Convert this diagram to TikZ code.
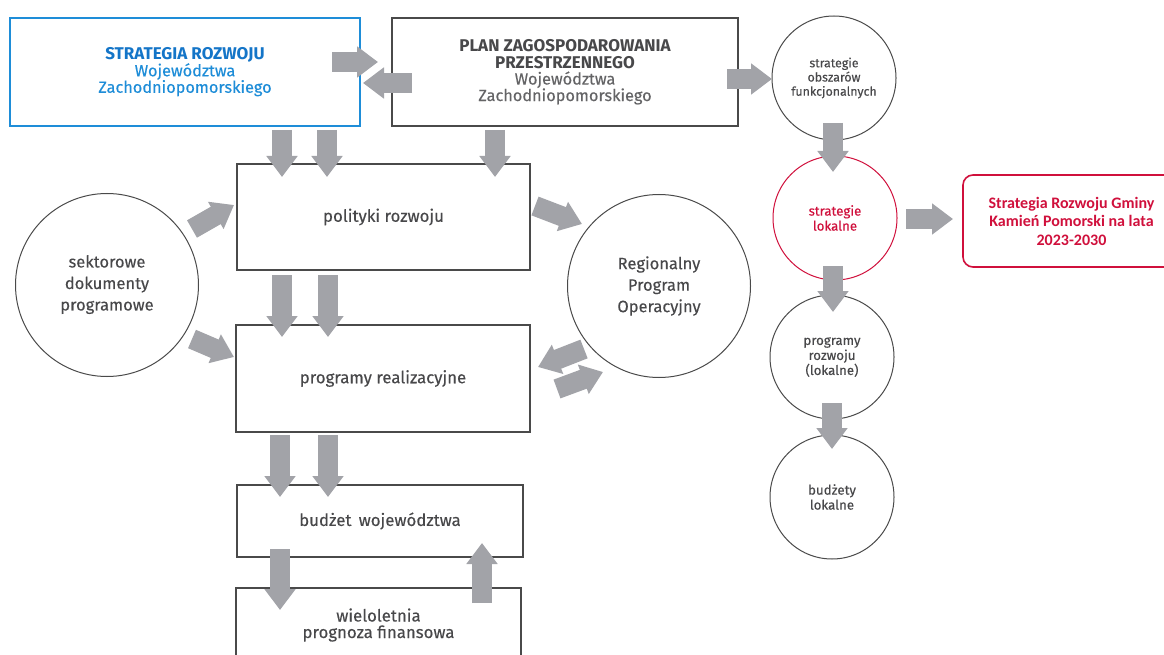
\documentclass[tikz,border=0pt]{standalone}
\usepackage{fontspec}
\setmainfont{Fira Sans}[UprightFeatures={FakeBold=0.25}]
\newfontfamily\carlito{Carlito}
\usetikzlibrary{arrows.meta}
\definecolor{txt}{HTML}{48484A}
\definecolor{txtlight}{HTML}{646466}
\definecolor{boxline}{HTML}{4A4A4A}
\definecolor{agray}{HTML}{A2A3A8}
\definecolor{blueA}{HTML}{1475C8}
\definecolor{blueB}{HTML}{1E8DD8}
\definecolor{redA}{HTML}{D0103C}
\tikzset{
  box/.style={draw=boxline, line width=1.1pt, fill=white, inner sep=0pt, align=center, text=txt,
    font=\fontsize{16.8}{17}\selectfont},
  circ/.style={circle, draw=boxline, line width=1pt, fill=white, inner sep=0pt, align=center, text=txt},
  bigcirc/.style={circ, minimum size=183pt, font=\fontsize{16.5}{21.5}\selectfont},
  smallcirc/.style={circ, minimum size=124pt, font=\fontsize{13.3}{15}\selectfont},
  barrow/.style={draw=agray, line width=20pt, -{Triangle[width=30pt,length=21pt]}},
}
\begin{document}
\begin{tikzpicture}[x=1pt,y=-1pt]
\clip (0,0) rectangle (1164,655);
\fill[white] (0,0) rectangle (1164,655);

% boxes
\node[box, draw=blueB, line width=1.6pt, minimum width=350pt, minimum height=108pt, text=blueB,
  font=\fontsize{16.3}{16.5}\selectfont] (srb) at (185,72)
  {{\fontsize{17}{16.5}\selectfont\bfseries\color{blueA}STRATEGIA ROZWOJU}\\Województwa\\Zachodniopomorskiego};
\node[box, minimum width=346pt, minimum height=108pt, text=txtlight, font=\fontsize{16.3}{16.5}\selectfont] (plan) at (565,72)
  {{\fontsize{17}{16.5}\selectfont\bfseries\color{txt}PLAN ZAGOSPODAROWANIA}\\{\fontsize{17}{16.5}\selectfont\bfseries\color{txt}PRZESTRZENNEGO}\\Województwa\\Zachodniopomorskiego};
\node[box, minimum width=293pt, minimum height=106pt] (pol) at (383.5,217) {polityki rozwoju};
\node[box, minimum width=294pt, minimum height=107pt] (prog) at (383,378.5) {programy realizacyjne};
\node[box, minimum width=286pt, minimum height=72pt] (bud) at (380,521) {budżet\, województwa};
\node[box, minimum width=285pt, minimum height=74pt, font=\fontsize{16.8}{16.5}\selectfont] (wpf) at (378.5,625)
  {wieloletnia\\prognoza finansowa};

% circles
\node[bigcirc] (sek) at (107,285) {\\[-10pt]sektorowe\\dokumenty\\programowe};
\node[bigcirc] (rpo) at (659,286) {Regionalny\\Program\\Operacyjny};
\node[smallcirc, font=\fontsize{12.4}{14.2}\selectfont] (sof) at (834,78) {strategie\\obszarów\\funkcjonalnych};
\node[smallcirc, draw=redA, text=redA] (sl) at (835,218) {strategie\\lokalne};
\node[smallcirc] (pr) at (832,357) {programy\\rozwoju\\(lokalne)};
\node[smallcirc] (bl) at (832,497) {budżety\\lokalne};

% red box
\node[draw=redA, line width=1.6pt, rounded corners=10pt, fill=white, minimum width=217pt, minimum height=92pt,
  align=center, text=redA, font=\carlito\bfseries\fontsize{16}{18.5}\selectfont] (gm) at (1071.5,221)
  {Strategia Rozwoju Gminy\\Kamień Pomorski na lata\\2023-2030};

% arrow end points
\coordinate (a1s) at (332,62);  \coordinate (a1e) at (378,62);
\coordinate (a2s) at (412,83);  \coordinate (a2e) at (363,83);
\coordinate (a3s) at (727,79);  \coordinate (a3e) at (772,79);
\coordinate (a4s) at (282,130); \coordinate (a4e) at (282,177);
\coordinate (a5s) at (327,130); \coordinate (a5e) at (327,177);
\coordinate (a6s) at (495,130); \coordinate (a6e) at (495,177);
\coordinate (a7s) at (282,275); \coordinate (a7e) at (282,337);
\coordinate (a8s) at (328,275); \coordinate (a8e) at (328,337);
\coordinate (a9s) at (280,435); \coordinate (a9e) at (280,497);
\coordinate (a10s) at (328,435); \coordinate (a10e) at (328,497);
\coordinate (a11s) at (280,549); \coordinate (a11e) at (280,610);
\coordinate (a12s) at (482,603); \coordinate (a12e) at (482,543);
\coordinate (a13s) at (192,229); \coordinate (a13e) at (234,205);
\coordinate (a14s) at (192,339); \coordinate (a14e) at (234,357);
\coordinate (a15s) at (535,206); \coordinate (a15e) at (582,224);
\coordinate (a16s) at (584,349); \coordinate (a16e) at (538,367);
\coordinate (a17s) at (557,389); \coordinate (a17e) at (603,372);
\coordinate (a18s) at (833,123); \coordinate (a18e) at (833,172);
\coordinate (a19s) at (906,219); \coordinate (a19e) at (953,219);
\coordinate (a20s) at (833,266); \coordinate (a20e) at (833,312);
\coordinate (a21s) at (832,403); \coordinate (a21e) at (832,449);

\foreach \i in {1,...,21} {\draw[barrow] (a\i s) -- (a\i e);}
\end{tikzpicture}
\end{document}
